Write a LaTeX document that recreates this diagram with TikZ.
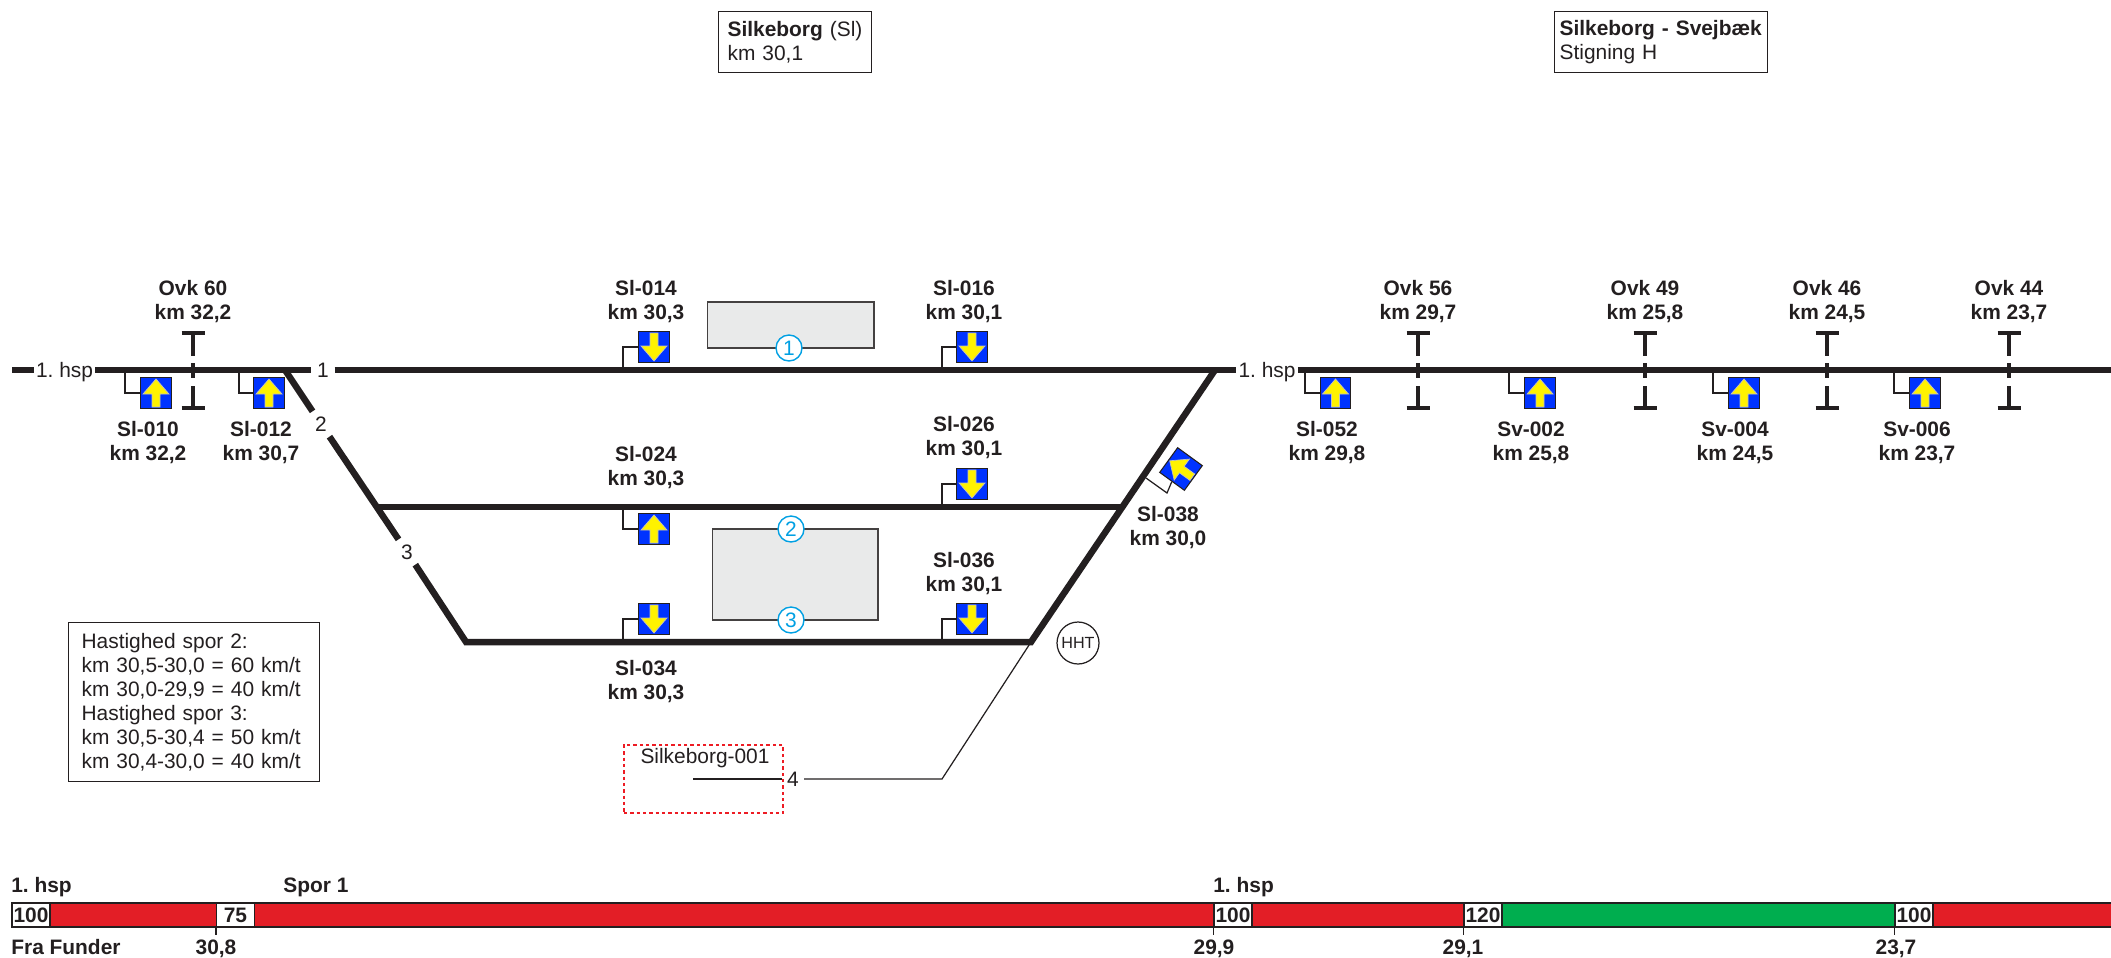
\documentclass[tikz,border=0pt]{standalone}
\usepackage{fontspec}
\setmainfont{Liberation Sans}
\frenchspacing
\definecolor{ink}{HTML}{231F20}
\definecolor{signblue}{HTML}{0033FF}
\definecolor{plategrey}{HTML}{E9EAEA}
\definecolor{numcyan}{HTML}{00A0E3}
\definecolor{barred}{HTML}{E31E26}
\definecolor{bargreen}{HTML}{00AE4F}
\definecolor{depotred}{HTML}{ED1C24}
\tikzset{
  txt/.style={font=\fontsize{11.9}{13.7}\selectfont, text=ink, inner sep=0pt, align=left},
  lbl/.style={font=\bfseries\fontsize{11.9}{13.7}\selectfont, text=ink, inner sep=0pt, align=center, yshift=-0.05cm},
  track/.style={draw=ink, line width=3.7pt},
  stub/.style={draw=ink, line width=0.7pt},
  tracklabel/.style={txt, fill=white, inner ysep=0.1cm, text depth=0pt},
  infobox/.style={txt, draw=ink, line width=0.7pt, fill=white, inner xsep=0.18cm, anchor=north west},
  platform/.style={draw=ink!85, line width=0.6pt, fill=plategrey},
  numring/.style={circle, draw=numcyan, line width=0.8pt, fill=white, text=numcyan, font=\fontsize{11.9}{13.7}\selectfont, minimum size=0.52cm, inner sep=0pt},
  signbox/.style={draw=ink, line width=0.6pt, fill=signblue, minimum size=0.61cm, inner sep=0pt, rotate=#1,
    path picture={\draw[fill=yellow, draw=black!25, line width=0.4pt] (0,-14) -- (13,1) -- (4,1) -- (4,14) -- (-4,14) -- (-4,1) -- (-13,1) -- cycle;}},
  speedbox/.style={font=\bfseries\fontsize{11.9}{13.7}\selectfont, text=ink, inner sep=0pt, draw=ink, line width=0.8pt, fill=white, minimum width=0.76cm, minimum height=0.48cm},
  tick/.style={draw=ink, line width=0.8pt},
  ovkmark/.pic={
    \draw[ink, line width=2.5pt] (-11.5,-37) -- (11.5,-37);
    \draw[ink, line width=2.5pt] (0,-37) -- (0,-14);
    \draw[ink, line width=2.5pt] (0,-7) -- (0,8);
    \draw[ink, line width=2.5pt] (0,16) -- (0,38);
    \draw[ink, line width=2.5pt] (-11.5,38) -- (11.5,38);
  }
}
\begin{document}
\begin{tikzpicture}[x=0.02cm, y=-0.02cm]
  \useasboundingbox (0,0) rectangle (2111,957);

  \node[infobox, text width=2.7cm, minimum height=1.22cm] (boxstation) at (718,11) {\textbf{Silkeborg} (Sl)\\km 30,1};
  \node[infobox, text width=4.06cm, inner xsep=0.1cm, minimum height=1.22cm] (boxstretch) at (1554,11) {\textbf{Silkeborg - Svejbæk}\\Stigning H};
  \node[infobox, text width=4.5cm, inner xsep=0.26cm, minimum height=3.18cm] (boxspeed) at (68,622) {Hastighed spor 2:\\km 30,5-30,0 = 60 km/t\\km 30,0-29,9 = 40 km/t\\Hastighed spor 3:\\km 30,5-30,4 = 50 km/t\\km 30,4-30,0 = 40 km/t};

  \node[platform, minimum width=3.34cm, minimum height=0.92cm] (plat1) at (790.5,325) {};
  \node[platform, minimum width=3.32cm, minimum height=1.82cm] (plat2) at (795,574.5) {};
  \node[numring] (ring1) at (789,348) {1};
  \node[numring] (ring2) at (791,529) {2};
  \node[numring] (ring3) at (791,620) {3};

  \coordinate (westend) at (12,370);
  \coordinate (eastend) at (2111,370);
  \coordinate (jnw) at (285,370);
  \coordinate (jne) at (1215,370);
  \coordinate (jsw) at (466,642);
  \coordinate (jse) at (1031,642);
  \coordinate (jmw) at (376,507);
  \coordinate (jme) at (1122,507);
  \coordinate (bend4) at (942,779);
  \coordinate (depotend) at (693,779);

  \node[tracklabel, inner xsep=0.04cm] (hspwest) at (64.5,370) {1. hsp};
  \node[tracklabel, inner xsep=0.11cm] (num1) at (323,370) {1};
  \node[tracklabel, inner xsep=0.04cm] (hspeast) at (1267,370) {1. hsp};
  \node[tracklabel, inner xsep=0.1cm] (num2) at (321,424) {2};
  \node[tracklabel, inner xsep=0.1cm] (num3) at (407,552) {3};
  \node[tracklabel, inner xsep=0.1cm, inner ysep=0pt] (num4) at (793,779) {4};

  \draw[track] (westend) -- (hspwest);
  \draw[track] (hspwest) -- (num1);
  \draw[track] (num1) -- (hspeast);
  \draw[track] (hspeast) -- (eastend);
  \draw[track] (jnw) -- (num2);
  \draw[track] (num2) -- (num3);
  \draw[track] (num3) -- (jsw) -- (jse) -- (jne);
  \draw[track] (jmw) -- (jme);

  \draw[stub] (jse) -- (bend4) -- (num4);
  \draw[stub, line width=0.9pt] (num4) -- (depotend);
  \node[draw=depotred, line width=1.1pt, dash pattern=on 1.9pt off 1.7pt, minimum width=3.18cm, minimum height=1.36cm] (depot) at (703.5,779) {};
  \node[txt] (depotname) at (705,758.5) {Silkeborg-001};

  \node[circle, draw=ink, line width=0.7pt, fill=white, minimum size=0.84cm, inner sep=0pt, text=ink, font=\fontsize{9.2}{11}\selectfont] (hht) at (1078,643) {HHT};

  \pic at (193,370) {ovkmark};
  \pic at (1418,370) {ovkmark};
  \pic at (1645,370) {ovkmark};
  \pic at (1827,370) {ovkmark};
  \pic at (2009,370) {ovkmark};
  \node[lbl] (ovk60) at (193,299) {Ovk 60\\km 32,2};
  \node[lbl] (ovk56) at (1418,299) {Ovk 56\\km 29,7};
  \node[lbl] (ovk49) at (1645,299) {Ovk 49\\km 25,8};
  \node[lbl] (ovk46) at (1827,299) {Ovk 46\\km 24,5};
  \node[lbl] (ovk44) at (2009,299) {Ovk 44\\km 23,7};

  \node[signbox=0] (sl010) at (156,393) {};
  \node[signbox=0] (sl012) at (269,393) {};
  \node[signbox=180] (sl014) at (654,347) {};
  \node[signbox=180] (sl016) at (972,347) {};
  \node[signbox=0] (sl024) at (654,529) {};
  \node[signbox=180] (sl026) at (972,484) {};
  \node[signbox=180] (sl034) at (654,619) {};
  \node[signbox=180] (sl036) at (972,619) {};
  \node[signbox=54] (sl038) at (1181,469) {};
  \node[signbox=0] (sl052) at (1335.5,393) {};
  \node[signbox=0] (sv002) at (1540,393) {};
  \node[signbox=0] (sv004) at (1744,393) {};
  \node[signbox=0] (sv006) at (1925,393) {};

  \coordinate (st010) at (125,370);
  \coordinate (st012) at (239,370);
  \coordinate (st014) at (623,370);
  \coordinate (st016) at (942,370);
  \coordinate (st024) at (623,507);
  \coordinate (st026) at (942,507);
  \coordinate (st034) at (623,642);
  \coordinate (st036) at (942,642);
  \coordinate (st038a) at (1146,478);
  \coordinate (st038b) at (1167,493);
  \coordinate (st052) at (1305,370);
  \coordinate (st002) at (1509,370);
  \coordinate (st004) at (1713,370);
  \coordinate (st006) at (1894,370);
  \draw[stub] (st010) |- (sl010.west);
  \draw[stub] (st012) |- (sl012.west);
  \draw[stub] (st014) |- (sl014.east);
  \draw[stub] (st016) |- (sl016.east);
  \draw[stub] (st024) |- (sl024.west);
  \draw[stub] (st026) |- (sl026.east);
  \draw[stub] (st034) |- (sl034.east);
  \draw[stub] (st036) |- (sl036.east);
  \draw[stub] (st038a) -- (st038b) -- (sl038.west);
  \draw[stub] (st052) |- (sl052.west);
  \draw[stub] (st002) |- (sv002.west);
  \draw[stub] (st004) |- (sv004.west);
  \draw[stub] (st006) |- (sv006.west);

  \node[lbl] (name010) at (148,440) {Sl-010\\km 32,2};
  \node[lbl] (name012) at (261,440) {Sl-012\\km 30,7};
  \node[lbl] (name014) at (646,299) {Sl-014\\km 30,3};
  \node[lbl] (name016) at (964,299) {Sl-016\\km 30,1};
  \node[lbl] (name024) at (646,465) {Sl-024\\km 30,3};
  \node[lbl] (name026) at (964,435) {Sl-026\\km 30,1};
  \node[lbl] (name034) at (646,679) {Sl-034\\km 30,3};
  \node[lbl] (name036) at (964,571) {Sl-036\\km 30,1};
  \node[lbl] (name038) at (1168,525) {Sl-038\\km 30,0};
  \node[lbl] (name052) at (1327,440) {Sl-052\\km 29,8};
  \node[lbl] (name002) at (1531,440) {Sv-002\\km 25,8};
  \node[lbl] (name004) at (1735,440) {Sv-004\\km 24,5};
  \node[lbl] (name006) at (1917,440) {Sv-006\\km 23,7};

  \fill[barred] (12,903) rectangle (2111,927);
  \fill[bargreen] (1502,903) rectangle (1895,927);
  \draw[ink, line width=0.8pt] (2111,903) -- (12,903) -- (12,927) -- (2111,927);
  \node[speedbox] (speed100a) at (31,915) {100};
  \node[speedbox] (speed75) at (235.5,915) {75};
  \node[speedbox] (speed100b) at (1233,915) {100};
  \node[speedbox] (speed120) at (1483,915) {120};
  \node[speedbox] (speed100c) at (1914,915) {100};
  \draw[tick] (speed75.south west) -- ++(0,7);
  \draw[tick] (speed100b.south west) -- ++(0,7);
  \draw[tick] (speed120.south west) -- ++(0,7);
  \draw[tick] (speed100c.south west) -- ++(0,7);

  \node[lbl, anchor=west] (barhsp1) at (11,885) {1. hsp};
  \node[lbl, anchor=west] (barspor) at (283,885) {Spor 1};
  \node[lbl, anchor=west] (barhsp2) at (1213,885) {1. hsp};
  \node[lbl, anchor=west] (barfrom) at (11,945) {Fra Funder};
  \node[lbl] (km308) at (216,946) {30,8};
  \node[lbl] (km299) at (1214,946) {29,9};
  \node[lbl] (km291) at (1463,946) {29,1};
  \node[lbl] (km237) at (1896,946) {23,7};
\end{tikzpicture}
\end{document}
